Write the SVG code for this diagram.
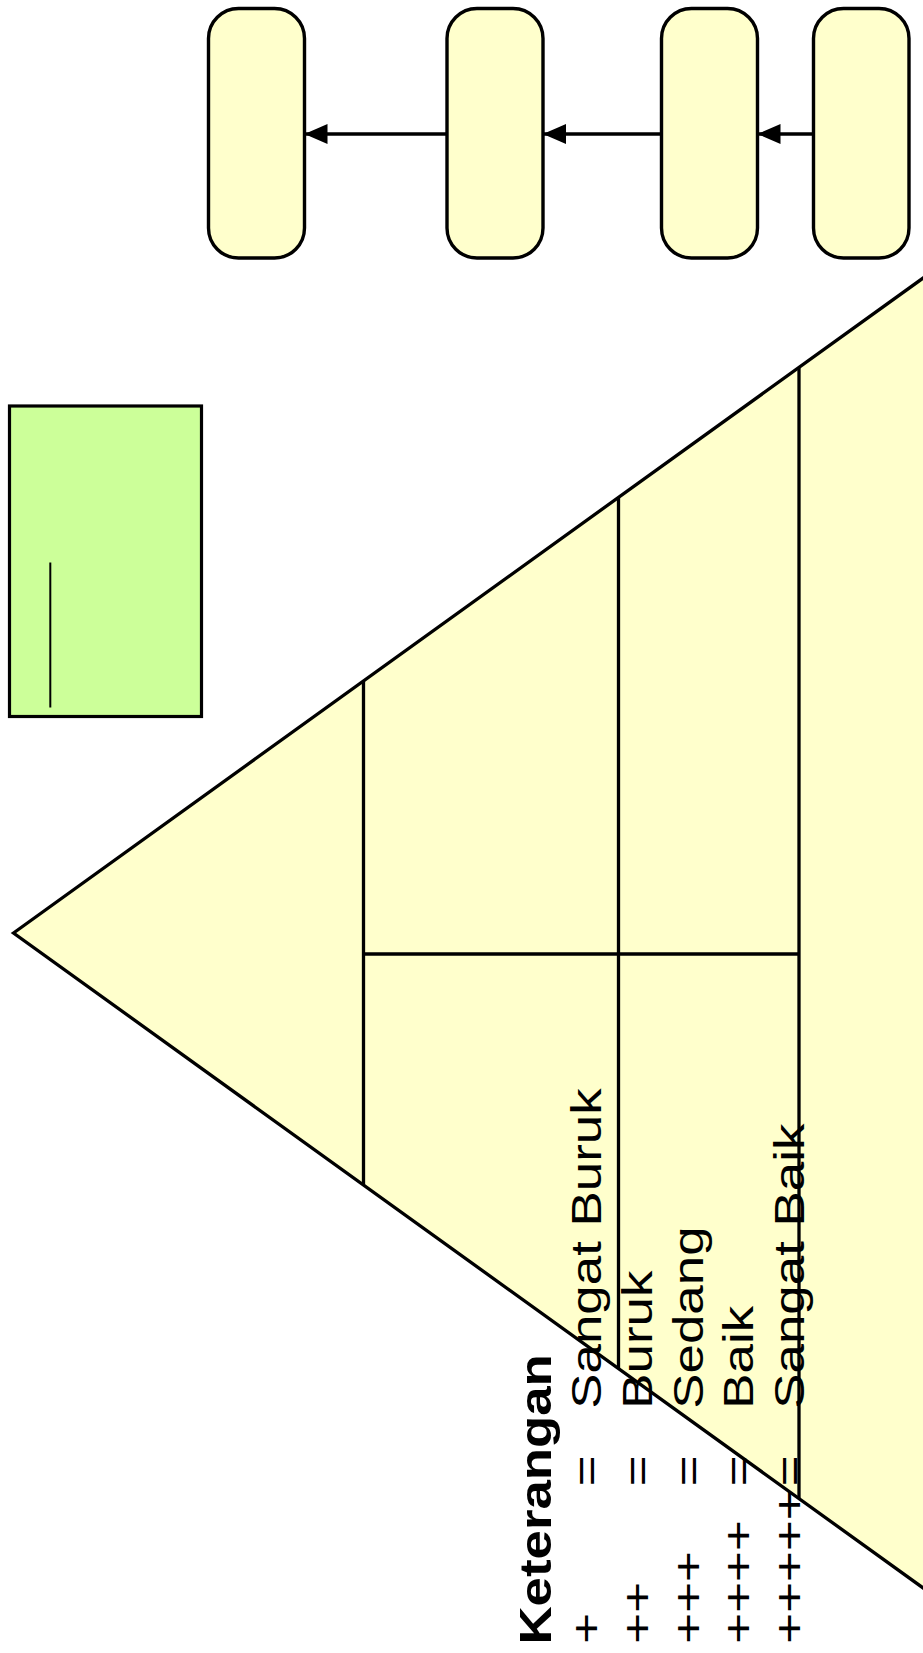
<svg xmlns="http://www.w3.org/2000/svg" width="923" height="1653" viewBox="0 0 923 1653">
  <style>
    .node { fill: #FFFFCC; stroke: #000; stroke-width: 3.4; }
    .green { fill: #CCFF99; stroke: #000; stroke-width: 3.2; }
    .div { fill: none; stroke: #000; stroke-width: 3.3; }
    .conn { fill: none; stroke: #000; stroke-width: 3.4; }
    .lbl { font-family: "Liberation Sans", Arial, sans-serif; font-size: 43px; fill: #000; }
    .hdr { font-family: "Liberation Sans", Arial, sans-serif; font-size: 44px; font-weight: bold; fill: #000; }
  </style>
  <defs>
    <marker id="arrow" markerWidth="24" markerHeight="20" refX="23" refY="10" orient="auto" markerUnits="userSpaceOnUse">
      <path d="M0,0 L23,10 L0,20 Z" fill="#000"/>
    </marker>
  </defs>

  <rect width="923" height="1653" fill="#FFFFFF"/>

  <g id="box1"><rect class="node" x="208.5" y="8.5" width="96" height="249.5" rx="30" ry="30"/></g>
  <g id="box2"><rect class="node" x="447" y="8.5" width="96" height="249.5" rx="30" ry="30"/></g>
  <g id="box3"><rect class="node" x="661.5" y="8.5" width="96" height="249.5" rx="30" ry="30"/></g>
  <g id="box4"><rect class="node" x="813.5" y="8.5" width="95.5" height="249.5" rx="30" ry="30"/></g>

  <g id="connectors">
    <line class="conn" x1="447" y1="134" x2="304.5" y2="134" marker-end="url(#arrow)"/>
    <line class="conn" x1="661.5" y1="134" x2="543" y2="134" marker-end="url(#arrow)"/>
    <line class="conn" x1="813.5" y1="134" x2="757.5" y2="134" marker-end="url(#arrow)"/>
  </g>

  <g id="green-box">
    <rect class="green" x="9.5" y="406" width="192" height="310.5"/>
    <line x1="50.3" y1="562.5" x2="50.3" y2="707.5" stroke="#000" stroke-width="2"/>
  </g>

  <g id="pyramid">
    <polygon class="node" points="13.5,933 1000,222.7 1000,1643.3" stroke-linejoin="miter" style="stroke-width:3.3"/>
    <line class="div" x1="363.5" y1="681" x2="363.5" y2="1185"/>
    <line class="div" x1="618.5" y1="497.4" x2="618.5" y2="1368.6"/>
    <line class="div" x1="799" y1="367.6" x2="799" y2="1498.4"/>
    <line class="div" x1="363.5" y1="954" x2="799" y2="954"/>
  </g>

  <g id="legend">
    <text class="hdr" transform="translate(550.5,1644.5) rotate(-90) scale(1.2,1)">Keterangan</text>
    <text class="lbl" transform="translate(601,1643.7) rotate(-90) scale(1.23,1)"><tspan x="0">+</tspan><tspan x="128">=</tspan><tspan x="191">Sangat Buruk</tspan></text>
    <text class="lbl" transform="translate(652,1643.7) rotate(-90) scale(1.23,1)"><tspan x="0">++</tspan><tspan x="128">=</tspan><tspan x="191">Buruk</tspan></text>
    <text class="lbl" transform="translate(702.5,1643.7) rotate(-90) scale(1.23,1)"><tspan x="0">+++</tspan><tspan x="128">=</tspan><tspan x="191">Sedang</tspan></text>
    <text class="lbl" transform="translate(753.3,1643.7) rotate(-90) scale(1.23,1)"><tspan x="0">++++</tspan><tspan x="128">=</tspan><tspan x="191">Baik</tspan></text>
    <text class="lbl" transform="translate(804,1643.7) rotate(-90) scale(1.23,1)"><tspan x="0">+++++</tspan><tspan x="128">=</tspan><tspan x="191">Sangat Baik</tspan></text>
  </g>
</svg>
